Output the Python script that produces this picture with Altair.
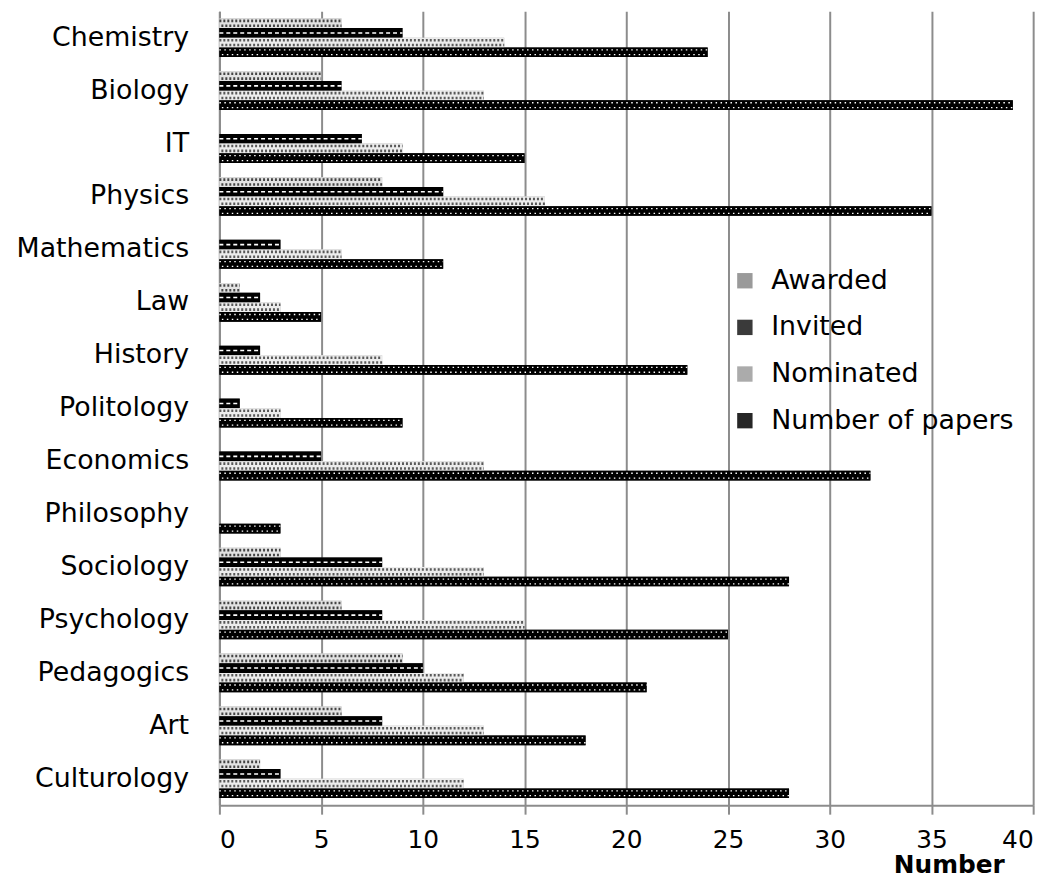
import altair as alt
import pandas as pd

categories = ["Chemistry", "Biology", "IT", "Physics", "Mathematics", "Law", "History",
              "Politology", "Economics", "Philosophy", "Sociology", "Psychology",
              "Pedagogics", "Art", "Culturology"]
series = ["Awarded", "Invited", "Nominated", "Number of papers"]
awarded =   [6, 5, 0, 8, 0, 1, 0, 0, 0, 0, 3, 6, 9, 6, 2]
invited =   [9, 6, 7, 11, 3, 2, 2, 1, 5, 0, 8, 8, 10, 8, 3]
nominated = [14, 13, 9, 16, 6, 3, 8, 3, 13, 0, 13, 15, 12, 13, 12]
papers =    [24, 39, 15, 35, 11, 5, 23, 9, 32, 3, 28, 25, 21, 18, 28]
x_ticks = [0, 5, 10, 15, 20, 25, 30, 35, 40]

rows = []
for s, vals in zip(series, [awarded, invited, nominated, papers]):
    for c, v in zip(categories, vals):
        rows.append({"Field": c, "Series": s, "Value": v, "Zero": 0})
df = pd.DataFrame(rows)

FONT = "DejaVu Sans"
GRID = "#8c8c8c"
legend_colors = ["#9a9a9a", "#3a3a3a", "#ababab", "#262626"]
base_fills = {"Awarded": "#e2e2e2", "Invited": "#000000",
              "Nominated": "#ececec", "Number of papers": "#000000"}

slots = []
for s in series:
    slots += [s + " a", s + " b"]

x_scale = alt.Scale(domain=[0, 40], nice=False)
yoff_series = alt.YOffset("Series:N", sort=series,
                          scale=alt.Scale(domain=series, paddingInner=0, paddingOuter=0))
y_plain = alt.Y("Field:N", sort=categories)
base = alt.Chart(df)

bars = base.mark_bar(stroke=None).encode(
    x=alt.X("Value:Q", scale=x_scale,
            axis=alt.Axis(values=x_ticks, title="Number", grid=True,
                          gridColor=GRID, gridWidth=2,
                          domainColor=GRID, domainWidth=2,
                          tickColor=GRID, tickWidth=2, tickSize=9,
                          labelFont=FONT, labelFontSize=25, labelColor="black",
                          labelPadding=14,
                          titleFont=FONT, titleFontSize=25, titleFontWeight="bold",
                          titleColor="black", titleAnchor=None,
                          titleX=735, titleY=68, titleBaseline="alphabetic",
                          titleAlign="center")),
    y=alt.Y("Field:N", sort=categories,
            scale=alt.Scale(paddingInner=0.27, paddingOuter=0.135),
            axis=alt.Axis(title=None, ticks=False, tickSize=0, grid=False,
                          domainColor=GRID, domainWidth=2,
                          labelFont=FONT, labelFontSize=27, labelColor="black",
                          labelPadding=31)),
    yOffset=yoff_series,
    color=alt.Color("Series:N", sort=series,
                    scale=alt.Scale(domain=series, range=legend_colors),
                    legend=alt.Legend(title=None, orient="none",
                                      legendX=516, legendY=258,
                                      symbolType="square", symbolSize=240,
                                      symbolStrokeWidth=0,
                                      labelFont=FONT, labelFontSize=27,
                                      labelColor="black", labelOffset=13,
                                      labelLimit=0, rowPadding=19)),
)

def base_bar(series_name):
    return base.transform_filter(
        alt.datum.Series == series_name
    ).mark_bar(stroke=None, fill=base_fills[series_name]).encode(
        x=alt.X("Value:Q", scale=x_scale), y=y_plain, yOffset=yoff_series)

def texture(series_name, slot_suffix, color, width, dash, dash_offset):
    return base.transform_filter(
        alt.datum.Series == series_name
    ).transform_calculate(
        Slot=alt.datum.Series + " " + slot_suffix
    ).mark_rule(stroke=color, strokeWidth=width, strokeDash=dash,
                strokeDashOffset=dash_offset).encode(
        x=alt.X("Zero:Q", scale=x_scale),
        x2="Value:Q",
        y=y_plain,
        yOffset=alt.YOffset("Slot:N",
                            scale=alt.Scale(domain=slots, paddingInner=0, paddingOuter=0)),
    )

def texture_center(series_name, color, width, dash, dash_offset):
    return base.transform_filter(
        alt.datum.Series == series_name
    ).mark_rule(stroke=color, strokeWidth=width, strokeDash=dash,
                strokeDashOffset=dash_offset).encode(
        x=alt.X("Zero:Q", scale=x_scale),
        x2="Value:Q",
        y=y_plain,
        yOffset=yoff_series,
    )

layers = [bars] + [base_bar(s) for s in series] + [
    texture("Awarded", "a", "#444444", 2.6, [2, 2], 0),
    texture("Awarded", "b", "#444444", 2.6, [2, 2], 2),
    texture_center("Invited", "#ffffff", 1.6, [4, 3], 0),
    texture("Nominated", "a", "#585858", 2.6, [2, 2], 0),
    texture("Nominated", "b", "#585858", 2.6, [2, 2], 2),
    texture("Number of papers", "a", "#ffffff", 1.3, [1.5, 3.5], 0),
    texture("Number of papers", "b", "#ffffff", 1.3, [1.5, 3.5], 2.5),
]

chart = alt.layer(*layers).resolve_scale(
    yOffset="independent"
).properties(
    width=820, height=800,
    autosize=alt.AutoSizeParams(type="none"),
    padding={"left": 213, "top": 0, "right": 22, "bottom": 70},
).configure_view(stroke=None).configure_axis(domainCap="butt")

chart.save("out.html", embed_options={"renderer": "svg", "actions": False})
